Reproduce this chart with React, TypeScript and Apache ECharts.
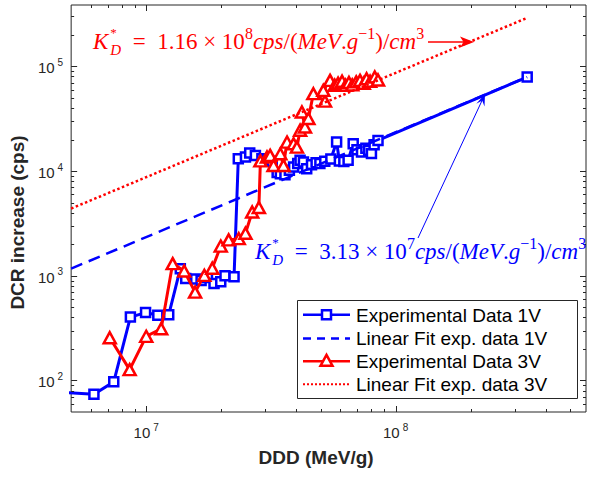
import { useEffect, useRef } from 'react';
import * as echarts from 'echarts';

// Axis ranges (log scales)
const X_MIN = 5e6;
const X_MAX = 5.8e8;
const Y_MIN = 50;
const Y_MAX = 3.85e5;

// Experimental data, 1V bias
const blueX = [
  4.3e6, 6.17e6, 7.41e6, 8.64e6, 9.94e6, 1.113e7, 1.231e7, 1.37e7, 1.44e7, 1.58e7,
  1.66e7, 1.76e7, 1.87e7, 1.99e7, 2.07e7, 2.25e7, 2.34e7, 2.5e7, 2.6e7, 2.74e7,
  2.91e7, 3.05e7, 3.2e7, 3.35e7, 3.45e7, 3.6e7, 3.75e7, 3.9e7, 4.05e7, 4.14e7,
  4.27e7, 4.4e7, 4.6e7, 4.8e7, 4.97e7, 5.2e7, 5.5e7, 5.8e7, 5.95e7, 6.2e7,
  6.45e7, 6.76e7, 7.0e7, 7.3e7, 7.6e7, 7.8e7, 8.0e7, 8.2e7, 8.5e7, 3.37e8,
];
const blueY = [
  78, 74, 97, 403, 445, 419, 424, 1169, 940, 930,
  900, 960, 845, 875, 1000, 980, 13100, 13600, 14900, 14100,
  13100, 12800, 12400, 9700, 9400, 9200, 10200, 10900, 11800, 12700,
  12200, 10500, 11500, 12000, 11800, 12400, 13000, 18900, 12500, 12300,
  12700, 18200, 16000, 15200, 16500, 15800, 14700, 17800, 19600, 79000,
];

// Experimental data, 3V bias
const redX = [
  7.14e6, 8.58e6, 1.0e7, 1.148e7, 1.277e7, 1.42e7, 1.57e7, 1.71e7, 1.84e7, 1.99e7,
  2.14e7, 2.35e7, 2.5e7, 2.66e7, 2.83e7, 2.87e7, 3.05e7, 3.14e7, 3.24e7, 3.45e7,
  3.55e7, 3.67e7, 3.9e7, 4.02e7, 4.14e7, 4.33e7, 4.21e7, 4.47e7, 4.68e7, 5.21e7,
  5.13e7, 5.46e7, 5.7e7, 5.88e7, 6.1e7, 6.3e7, 6.5e7, 6.7e7, 6.95e7, 7.2e7,
  7.45e7, 7.65e7, 7.9e7, 8.25e7, 8.5e7,
];
const redY = [
  256, 127, 264, 312, 1306, 1109, 698, 1008, 1180, 1920,
  2200, 2260, 2550, 4060, 4480, 12500, 13600, 14100, 11300, 14600,
  11300, 18900, 18200, 16900, 24500, 26300, 36600, 31700, 54800, 46500,
  58900, 73400, 66000, 69000, 72000, 66000, 70000, 66500, 71000, 73400,
  69000, 76000, 72000, 79000, 74000,
];

// Linear fits (straight lines of slope 1 in log-log)
const fit1X = [5e6, 3.37e8];
const fit1Y = [1170, 79000];
const fit3X = [5e6, 3.39e8];
const fit3Y = [4380, 292000];

// Tick positions
const xMajorTicks = [1e7, 1e8];
const xMinorTicks = [6e6, 7e6, 8e6, 9e6, 2e7, 3e7, 4e7, 5e7, 6e7, 7e7, 8e7, 9e7, 2e8, 3e8, 4e8, 5e8];
const yMajorTicks = [1e2, 1e3, 1e4, 1e5];
const yMinorTicks = [
  60, 70, 80, 90, 200, 300, 400, 500, 600, 700, 800, 900,
  2000, 3000, 4000, 5000, 6000, 7000, 8000, 9000,
  2e4, 3e4, 4e4, 5e4, 6e4, 7e4, 8e4, 9e4, 2e5, 3e5,
];

const legendLabels = [
  'Experimental Data 1V',
  'Linear Fit exp. data 1V',
  'Experimental Data 3V',
  'Linear Fit exp. data 3V',
];
const xTitle = 'DDD (MeV/g)';
const yTitle = 'DCR increase (cps)';
const kd3V = ['1.16', '8'];
const kd1V = ['3.13', '7'];

const BLUE = '#0000ff';
const RED = '#ff0000';
const AXIS = '#262626';
const SANS = '"Liberation Sans", Arial, Helvetica, sans-serif';
const SERIF = '"Liberation Serif", "Times New Roman", serif';

const pairs = (xs: number[], ys: number[]) => xs.map((x, i) => [x, ys[i]]);

const powLabel = (v: number) => {
  const l = Math.log10(v);
  const e = Math.round(l);
  return Math.abs(l - e) < 1e-6 ? `{b|10}{s|${e}}` : '';
};

const tickRich = {
  b: { fontSize: 15, lineHeight: 18, verticalAlign: 'bottom', color: AXIS, fontFamily: SANS },
  s: { fontSize: 10, lineHeight: 10, verticalAlign: 'top', color: AXIS, fontFamily: SANS, padding: [0, 0, 0, 3] },
};

// Rich-text styles for the LaTeX-like formula annotations
const mathRich = (c: string) => ({
  i: { fill: c, color: c, fontFamily: SERIF, fontStyle: 'italic', fontSize: 23, lineHeight: 32, verticalAlign: 'middle' },
  n: { fill: c, color: c, fontFamily: SERIF, fontSize: 23, lineHeight: 32, verticalAlign: 'middle' },
  sp: { fill: c, color: c, fontFamily: SERIF, fontSize: 16, lineHeight: 16, verticalAlign: 'top' },
  st: { fill: c, color: c, fontFamily: SERIF, fontSize: 13, lineHeight: 13, verticalAlign: 'top', width: 0.01, padding: [1, 0, 0, 2] },
  sb: { fill: c, color: c, fontFamily: SERIF, fontStyle: 'italic', fontSize: 15, lineHeight: 15, verticalAlign: 'bottom' },
});

const kdText = (k: string[]) =>
  `{i|K}{st|*}{sb|D}{n|  =  ${k[0]} × 10}{sp|${k[1]}}{i|cps}{n|/(}{i|MeV}{n|.}{i|g}{sp|−1}{n|)/}{i|cm}{sp|3}`;

function buildLegend() {
  const left = 297.5;
  const top = 300.5;
  const rows = [314.7, 338.4, 361.3, 384.3];
  const x1 = 303;
  const x2 = 350;
  const cx = (x1 + x2) / 2;
  const els: any[] = [
    {
      type: 'rect',
      z: 100,
      shape: { x: left, y: top, width: 280, height: 98 },
      style: { fill: '#ffffff', stroke: AXIS, lineWidth: 1 },
    },
  ];
  const styles = [
    { stroke: BLUE, lineWidth: 2.5, lineDash: null, marker: 'rect' },
    { stroke: BLUE, lineWidth: 2.5, lineDash: [8, 6], marker: null },
    { stroke: RED, lineWidth: 2.5, lineDash: null, marker: 'tri' },
    { stroke: RED, lineWidth: 2, lineDash: [2, 2], marker: null },
  ];
  rows.forEach((y, i) => {
    const s = styles[i];
    els.push({
      type: 'line',
      z: 101,
      shape: { x1, y1: y, x2, y2: y },
      style: { stroke: s.stroke, lineWidth: s.lineWidth, lineDash: s.lineDash || undefined },
    });
    if (s.marker === 'rect') {
      els.push({
        type: 'rect',
        z: 102,
        shape: { x: cx - 4.5, y: y - 4.5, width: 9, height: 9 },
        style: { fill: '#ffffff', stroke: s.stroke, lineWidth: 2.5 },
      });
    } else if (s.marker === 'tri') {
      els.push({
        type: 'polygon',
        z: 102,
        shape: { points: [[cx, y - 6.5], [cx + 6, y + 4.5], [cx - 6, y + 4.5]] },
        style: { fill: '#ffffff', stroke: s.stroke, lineWidth: 2.5 },
      });
    }
    els.push({
      type: 'text',
      z: 102,
      x: 356,
      y: y + 0.5,
      style: {
        text: legendLabels[i],
        fill: '#000000',
        fontFamily: SANS,
        fontSize: 19,
        verticalAlign: 'middle',
        align: 'left',
      },
    });
  });
  return els;
}

function buildAnnotations() {
  return [
    {
      type: 'text',
      z: 90,
      x: 93,
      y: 41,
      style: { text: kdText(kd3V), rich: mathRich(RED), verticalAlign: 'middle', align: 'left' },
    },
    {
      type: 'line',
      z: 90,
      shape: { x1: 428, y1: 42, x2: 466, y2: 42 },
      style: { stroke: RED, lineWidth: 1.3 },
    },
    {
      type: 'polygon',
      z: 90,
      shape: { points: [[474, 42], [460, 36.5], [463.5, 42], [460, 47.5]] },
      style: { fill: RED },
    },
    {
      type: 'text',
      z: 90,
      x: 255,
      y: 251,
      style: { text: kdText(kd1V), rich: mathRich(BLUE), verticalAlign: 'middle', align: 'left' },
    },
    {
      type: 'line',
      z: 90,
      shape: { x1: 418, y1: 238, x2: 482.5, y2: 99.5 },
      style: { stroke: BLUE, lineWidth: 1 },
    },
    {
      type: 'polygon',
      z: 90,
      shape: { points: [[485, 94], [484.5, 106.5], [482.2, 100.5], [476.3, 103.7]] },
      style: { fill: BLUE },
    },
  ];
}

// Major/minor tick marks drawn inward on all four sides of the box
function tickSeries(axis: 'x' | 'y', majors: number[], minors: number[]) {
  const data = [
    ...majors.map((v) => (axis === 'x' ? [v, Y_MIN, 6] : [X_MIN, v, 6])),
    ...minors.map((v) => (axis === 'x' ? [v, Y_MIN, 3] : [X_MIN, v, 3])),
  ];
  return {
    type: 'custom',
    silent: true,
    clip: false,
    z: 10,
    encode: { x: 0, y: 1 },
    data,
    renderItem: (params: any, api: any) => {
      const cs = params.coordSys;
      const len = api.value(2);
      const p = api.coord([api.value(0), api.value(1)]);
      const st = { stroke: AXIS, lineWidth: 1 };
      if (axis === 'x') {
        const x = Math.round(p[0]) + 0.5;
        return {
          type: 'group',
          children: [
            { type: 'line', shape: { x1: x, y1: cs.y + cs.height, x2: x, y2: cs.y + cs.height - len }, style: st },
            { type: 'line', shape: { x1: x, y1: cs.y, x2: x, y2: cs.y + len }, style: st },
          ],
        };
      }
      const y = Math.round(p[1]) + 0.5;
      return {
        type: 'group',
        children: [
          { type: 'line', shape: { x1: cs.x, y1: y, x2: cs.x + len, y2: y }, style: st },
          { type: 'line', shape: { x1: cs.x + cs.width, y1: y, x2: cs.x + cs.width - len, y2: y }, style: st },
        ],
      };
    },
  };
}

export default function App() {
  const ref = useRef<HTMLDivElement>(null);

  useEffect(() => {
    if (!ref.current) return;
    const chart = echarts.init(ref.current, undefined, { renderer: 'svg' });
    chart.setOption({
      animation: false,
      backgroundColor: '#ffffff',
      textStyle: { fontFamily: SANS },
      grid: {
        left: 70,
        right: 1.5,
        top: 5,
        bottom: 65,
        show: true,
        borderColor: AXIS,
        borderWidth: 1,
        backgroundColor: 'transparent',
      },
      xAxis: {
        type: 'log',
        logBase: 10,
        min: X_MIN,
        max: X_MAX,
        name: xTitle,
        nameLocation: 'middle',
        nameGap: 36,
        nameTextStyle: {
          fontFamily: SANS,
          fontWeight: 'bold',
          fontSize: 19,
          color: AXIS,
          padding: [0, 25, 0, 0],
        },
        axisLine: { show: false },
        axisTick: { show: false },
        splitLine: { show: false },
        axisLabel: { formatter: powLabel, rich: tickRich, margin: 10 },
      },
      yAxis: {
        type: 'log',
        logBase: 10,
        min: Y_MIN,
        max: Y_MAX,
        name: yTitle,
        nameLocation: 'middle',
        nameGap: 40,
        nameTextStyle: {
          fontFamily: SANS,
          fontWeight: 'bold',
          fontSize: 19,
          color: AXIS,
          padding: [0, 28, 0, 0],
        },
        axisLine: { show: false },
        axisTick: { show: false },
        splitLine: { show: false },
        axisLabel: { formatter: powLabel, rich: tickRich, margin: 8 },
      },
      series: [
        tickSeries('x', xMajorTicks, xMinorTicks),
        tickSeries('y', yMajorTicks, yMinorTicks),
        {
          name: legendLabels[0],
          type: 'line',
          data: pairs(blueX, blueY),
          symbol: 'rect',
          symbolSize: 9,
          showAllSymbol: true,
          lineStyle: { color: BLUE, width: 3 },
          itemStyle: { color: '#ffffff', borderColor: BLUE, borderWidth: 2.5 },
          z: 3,
        },
        {
          name: legendLabels[1],
          type: 'line',
          data: pairs(fit1X, fit1Y),
          symbol: 'none',
          lineStyle: { color: BLUE, width: 2.5, type: [12, 7] },
          z: 4,
        },
        {
          name: legendLabels[2],
          type: 'line',
          data: pairs(redX, redY),
          symbol: 'triangle',
          symbolSize: [12, 11],
          showAllSymbol: true,
          lineStyle: { color: RED, width: 3 },
          itemStyle: { color: '#ffffff', borderColor: RED, borderWidth: 2.5 },
          z: 5,
        },
        {
          name: legendLabels[3],
          type: 'line',
          data: pairs(fit3X, fit3Y),
          symbol: 'none',
          lineStyle: { color: RED, width: 2.5, type: [2.5, 2.5] },
          z: 6,
        },
      ],
      graphic: { elements: [...buildAnnotations(), ...buildLegend()] },
    });
    return () => chart.dispose();
  }, []);

  return (
    <div
      ref={ref}
      style={{ position: 'absolute', left: 0, top: 0, width: 589, height: 477, background: '#ffffff' }}
    />
  );
}
